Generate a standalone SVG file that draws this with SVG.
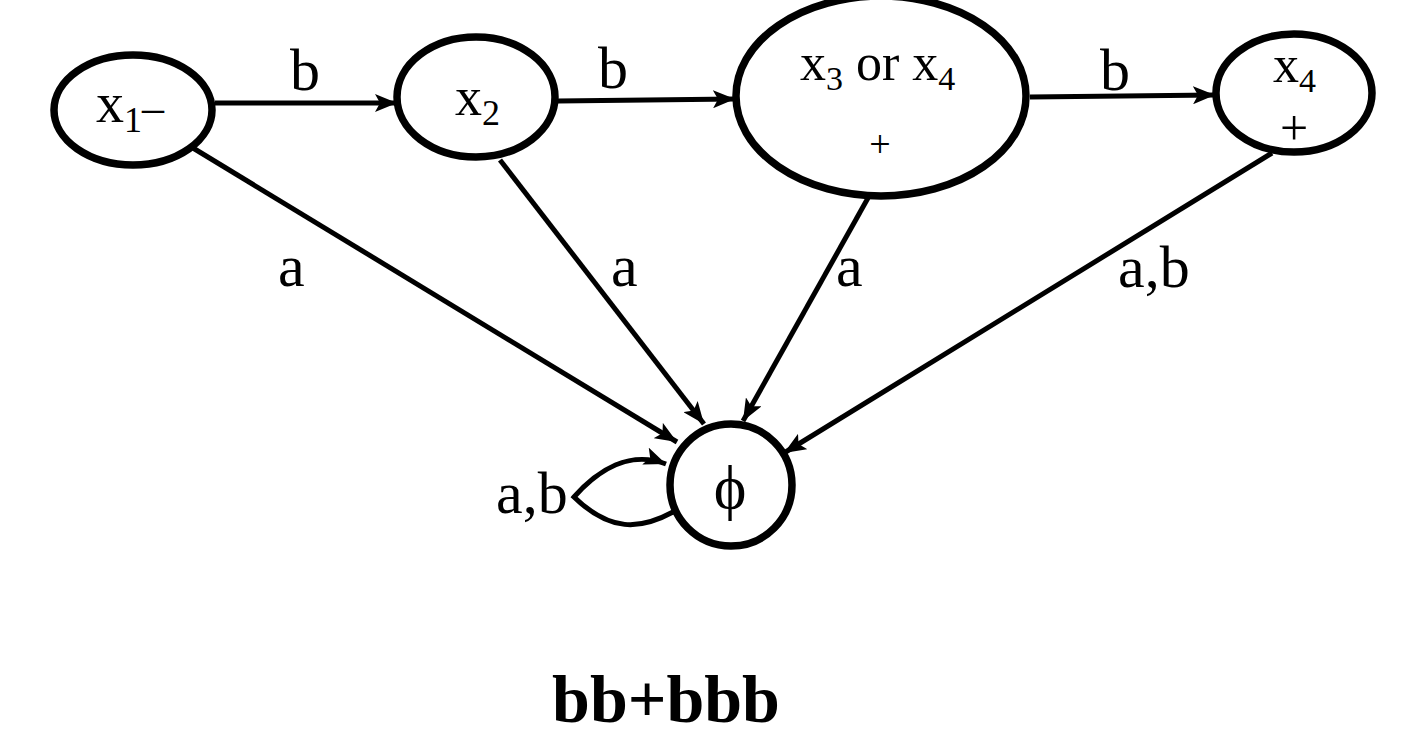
<svg xmlns="http://www.w3.org/2000/svg" width="1404" height="746" viewBox="0 0 1404 746">
<style>
.node{fill:#fff;stroke:#000;stroke-width:7.5}
.edge{fill:none;stroke:#000;stroke-width:5}
.t{font-family:"Liberation Serif",serif;fill:#000}
.lbl{font-family:"Liberation Serif",serif;font-size:60px;fill:#000}
</style>
<defs>
<marker id="arr" markerUnits="userSpaceOnUse" markerWidth="24" markerHeight="18" refX="22" refY="9" orient="auto">
<path d="M0,0 L22,9 L0,18 L5,9 Z" fill="#000"/>
</marker>
</defs>
<rect width="1404" height="746" fill="#fff"/>
<g id="connectors">
<line class="edge" x1="215" y1="103" x2="397" y2="103" marker-end="url(#arr)"/>
<line class="edge" x1="558" y1="101" x2="735" y2="99" marker-end="url(#arr)"/>
<line class="edge" x1="1030" y1="97" x2="1215" y2="95" marker-end="url(#arr)"/>
<line class="edge" x1="193" y1="148" x2="677" y2="442" marker-end="url(#arr)"/>
<line class="edge" x1="500" y1="160" x2="704" y2="424" marker-end="url(#arr)"/>
<line class="edge" x1="868" y1="198" x2="743" y2="421" marker-end="url(#arr)"/>
<line class="edge" x1="1272" y1="153" x2="784" y2="453" marker-end="url(#arr)"/>
<path class="edge" d="M673,512 C640,530 610,532 574,497 C598,470 630,450 666,464" marker-end="url(#arr)"/>
<text class="lbl" x="290" y="90">b</text>
<text class="lbl" x="598" y="88">b</text>
<text class="lbl" x="1100" y="90">b</text>
<text class="lbl" x="278" y="286">a</text>
<text class="lbl" x="611" y="286">a</text>
<text class="lbl" x="836" y="286">a</text>
<text class="lbl" x="1118" y="287">a,b</text>
<text class="lbl" x="496" y="513">a,b</text>
</g>
<g id="x1">
<ellipse class="node" cx="133" cy="110" rx="79" ry="55"/>
<text class="t" x="96" y="122" font-size="56">x<tspan font-size="36" dy="10">1</tspan><tspan font-size="44" dy="-10">–</tspan></text>
</g>
<g id="x2">
<ellipse class="node" cx="476" cy="97" rx="79" ry="60"/>
<text class="t" x="455" y="115" font-size="54">x<tspan font-size="36" dy="10">2</tspan></text>
</g>
<g id="x3">
<ellipse class="node" cx="881" cy="96" rx="145" ry="100"/>
<text class="t" x="800" y="80" font-size="52">x<tspan font-size="34" dy="10">3</tspan><tspan dy="-10"> or x</tspan><tspan font-size="34" dy="10">4</tspan></text>
<text class="t" x="880" y="157" font-size="38" text-anchor="middle">+</text>
</g>
<g id="x4">
<ellipse class="node" cx="1294" cy="93" rx="78" ry="59"/>
<text class="t" x="1273" y="82" font-size="52">x<tspan font-size="34" dy="10">4</tspan></text>
<text class="t" x="1294" y="145" font-size="50" text-anchor="middle">+</text>
</g>
<g id="phi">
<circle class="node" cx="731" cy="485" r="61"/>
<text class="t" x="730" y="508" font-size="62" text-anchor="middle">ϕ</text>
</g>
<g id="caption">
<text class="t" x="666" y="722" font-size="68" font-weight="bold" text-anchor="middle">bb+bbb</text>
</g>
</svg>
